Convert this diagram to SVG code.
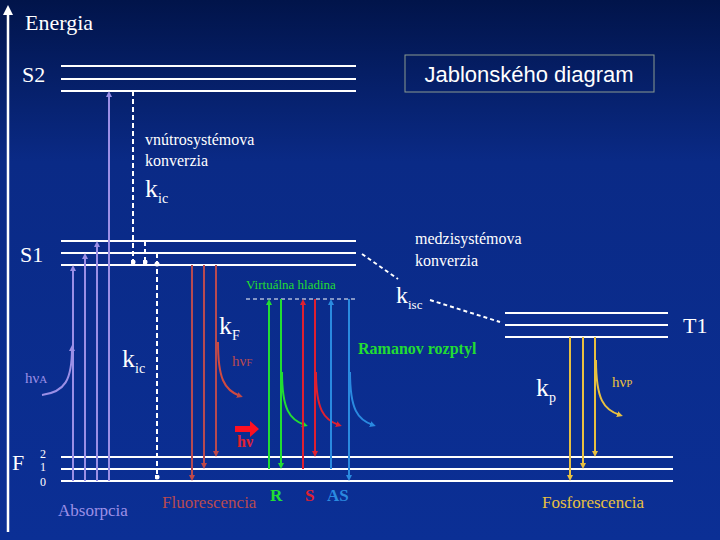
<svg xmlns="http://www.w3.org/2000/svg" width="720" height="540" viewBox="0 0 720 540">
<defs>
<linearGradient id="bg" x1="0" y1="0" x2="0" y2="1"><stop offset="0" stop-color="#01144a"/><stop offset="0.3" stop-color="#0a2a86"/><stop offset="1" stop-color="#0b2f95"/></linearGradient>
<marker id="ap" viewBox="0 0 6 6" refX="3" refY="3" markerWidth="3" markerHeight="3" orient="auto"><path d="M0,0L6,3L0,6z" fill="#9b8fe6"/></marker>
<marker id="af" viewBox="0 0 6 6" refX="3" refY="3" markerWidth="3" markerHeight="3" orient="auto"><path d="M0,0L6,3L0,6z" fill="#c04848"/></marker>
<marker id="ag" viewBox="0 0 6 6" refX="3" refY="3" markerWidth="3" markerHeight="3" orient="auto"><path d="M0,0L6,3L0,6z" fill="#22dd33"/></marker>
<marker id="ar" viewBox="0 0 6 6" refX="3" refY="3" markerWidth="3" markerHeight="3" orient="auto"><path d="M0,0L6,3L0,6z" fill="#e02030"/></marker>
<marker id="ab" viewBox="0 0 6 6" refX="3" refY="3" markerWidth="3" markerHeight="3" orient="auto"><path d="M0,0L6,3L0,6z" fill="#2a8ae0"/></marker>
<marker id="ay" viewBox="0 0 6 6" refX="3" refY="3" markerWidth="3" markerHeight="3" orient="auto"><path d="M0,0L6,3L0,6z" fill="#e8c040"/></marker>
<marker id="aw" viewBox="0 0 6 6" refX="3" refY="3" markerWidth="4" markerHeight="4" orient="auto"><path d="M0,0L6,3L0,6z" fill="#fff"/></marker>
<marker id="dot" viewBox="0 0 6 6" refX="3" refY="3" markerWidth="2.5" markerHeight="2.5"><circle cx="3" cy="3" r="3" fill="#fff"/></marker>
</defs>
<style>
.lv{stroke:#fff;stroke-width:2}
text{font-family:"Liberation Serif","DejaVu Serif","Times New Roman",serif}
.t{fill:#fff}
.p{stroke:#9b8fe6;stroke-width:2;fill:none}
.f{stroke:#b84a50;stroke-width:2;fill:none}
.g{stroke:#22dd33;stroke-width:2;fill:none}
.r{stroke:#e02030;stroke-width:2;fill:none}
.b{stroke:#2a8ae0;stroke-width:2;fill:none}
.y{stroke:#e8c040;stroke-width:2;fill:none}
.d{stroke:#fff;stroke-width:2;stroke-dasharray:5,3;fill:none}
</style>
<rect width="720" height="540" fill="url(#bg)"/>
<g id="axis"><line x1="8" y1="532" x2="8" y2="10" stroke="#fff" stroke-width="2.5" marker-end="url(#aw)"/><text class="t" x="25" y="30" font-size="22">Energia</text></g>
<g id="title"><rect x="405" y="55" width="249" height="37" fill="none" stroke="#8a9a90" stroke-width="1"/><text x="529" y="82" style="font-family:'Liberation Sans',Arial,sans-serif" font-size="22" fill="#fff" text-anchor="middle">Jablonského diagram</text></g>
<g id="levels">
<line class="lv" x1="61" y1="66" x2="356" y2="66"/><line class="lv" x1="61" y1="79" x2="356" y2="79"/><line class="lv" x1="61" y1="91" x2="356" y2="91"/>
<line class="lv" x1="61" y1="241" x2="356" y2="241"/><line class="lv" x1="61" y1="253" x2="356" y2="253"/><line class="lv" x1="61" y1="265" x2="356" y2="265"/>
<line class="lv" x1="61" y1="457" x2="673" y2="457"/><line class="lv" x1="61" y1="469" x2="673" y2="469"/><line class="lv" x1="61" y1="481" x2="673" y2="481" stroke-width="3.5"/>
<line class="lv" x1="505" y1="313" x2="668" y2="313"/><line class="lv" x1="505" y1="325" x2="668" y2="325"/><line class="lv" x1="505" y1="337" x2="668" y2="337"/>
<line x1="246" y1="299" x2="355" y2="299" stroke="#fff" stroke-width="1" stroke-dasharray="4,3"/>
</g>
<g id="labels">
<text class="t" x="22" y="82" font-size="22">S2</text>
<text class="t" x="20" y="262" font-size="22">S1</text>
<text class="t" x="683" y="333" font-size="22">T1</text>
<text class="t" x="12" y="470" font-size="22">F</text>
<text class="t" x="40" y="458" font-size="12">2</text><text class="t" x="40" y="471" font-size="12">1</text><text class="t" x="40" y="486" font-size="12">0</text>
<text class="t" x="145" y="145" font-size="16">vnútrosystémova</text>
<text class="t" x="145" y="166" font-size="16">konverzia</text>
<text class="t" x="145" y="197" font-size="26">k<tspan font-size="14" dy="6">ic</tspan></text>
<text class="t" x="122" y="367" font-size="26">k<tspan font-size="14" dy="6">ic</tspan></text>
<text class="t" x="219" y="334" font-size="26">k<tspan font-size="14" dy="6">F</tspan></text>
<text class="t" x="536" y="396" font-size="26">k<tspan font-size="14" dy="6">p</tspan></text>
<text class="t" x="396" y="303" font-size="24">k<tspan font-size="13" dy="6">isc</tspan></text>
<text class="t" x="415" y="244" font-size="16">medzisystémova</text>
<text class="t" x="415" y="266" font-size="16">konverzia</text>
<text x="25" y="383" font-size="15" fill="#9b8fe6">hν<tspan font-size="11">A</tspan></text>
<text x="232" y="366" font-size="15" fill="#b84a50">hν<tspan font-size="11">F</tspan></text>
<text x="612" y="387" font-size="15" fill="#e8c040">hν<tspan font-size="11">P</tspan></text>
<text x="237" y="447" font-size="16" font-weight="bold" fill="#e02030">hν</text>
<text x="246" y="289" font-size="13" fill="#22dd33">Virtuálna hladina</text>
<text x="358" y="354" font-size="16" font-weight="bold" fill="#22dd33">Ramanov rozptyl</text>
<text x="58" y="516" font-size="17" fill="#9b8fe6">Absorpcia</text>
<text x="162" y="508" font-size="17" fill="#b84a50">Fluorescencia</text>
<text x="542" y="508" font-size="17" fill="#e8c040">Fosforescencia</text>
<text x="270" y="501" font-size="17" font-weight="bold" fill="#22dd33">R</text>
<text x="305" y="501" font-size="17" font-weight="bold" fill="#e02030">S</text>
<text x="327" y="501" font-size="17" font-weight="bold" fill="#2a8ae0">AS</text>
</g>
<g id="connectors">
<line class="p" x1="73" y1="481" x2="73" y2="268" marker-end="url(#ap)"/>
<line class="p" x1="85" y1="481" x2="85" y2="256" marker-end="url(#ap)"/>
<line class="p" x1="97" y1="481" x2="97" y2="244" marker-end="url(#ap)"/>
<line class="p" x1="109" y1="481" x2="109" y2="94" marker-end="url(#ap)"/>
<path class="p" d="M42,395 C65,392 72,380 72,348" marker-end="url(#ap)"/>
<path class="d" d="M133,91 V262" marker-end="url(#dot)"/>
<path class="d" d="M145,241 V262" marker-end="url(#dot)"/>
<path class="d" d="M157,253 V477" marker-end="url(#dot)"/>
<circle cx="157" cy="264" r="2.5" fill="#fff"/>
<line class="f" x1="192" y1="265" x2="192" y2="478" marker-end="url(#af)"/>
<line class="f" x1="204" y1="265" x2="204" y2="466" marker-end="url(#af)"/>
<line class="f" x1="216" y1="265" x2="216" y2="454" marker-end="url(#af)"/>
<path d="M218,342 C218,378 224,390 240,396" stroke="#d04a40" stroke-width="2" fill="none" marker-end="url(#af)"/>
<path d="M235,426 H250 V421 L259,429 L250,437 V432 H235z" fill="#ff1020"/>
<line class="g" x1="269" y1="469" x2="269" y2="302" marker-end="url(#ag)"/>
<line class="g" x1="281" y1="299" x2="281" y2="466" marker-end="url(#ag)"/>
<path class="g" d="M282,372 C282,410 290,420 305,425" marker-end="url(#ag)"/>
<line class="r" x1="303" y1="469" x2="303" y2="302" marker-end="url(#ar)"/>
<line class="r" x1="315" y1="299" x2="315" y2="454" marker-end="url(#ar)"/>
<path class="r" d="M316,372 C316,410 324,420 339,425" marker-end="url(#ar)"/>
<line class="b" x1="331" y1="469" x2="331" y2="302" marker-end="url(#ab)"/>
<line class="b" x1="349" y1="299" x2="349" y2="478" marker-end="url(#ab)"/>
<path class="b" d="M350,372 C350,410 358,420 373,425" marker-end="url(#ab)"/>
<line class="y" x1="570" y1="337" x2="570" y2="478" marker-end="url(#ay)"/>
<line class="y" x1="583" y1="337" x2="583" y2="466" marker-end="url(#ay)"/>
<line class="y" x1="595" y1="337" x2="595" y2="454" marker-end="url(#ay)"/>
<path class="y" d="M596,360 C596,400 604,410 620,415" marker-end="url(#ay)"/>
<path d="M362,254 L398,279" stroke="#fff" stroke-width="2" stroke-dasharray="4,3"/>
<path d="M430,300 L500,322" stroke="#fff" stroke-width="2" stroke-dasharray="4,3"/>
</g>
</svg>
